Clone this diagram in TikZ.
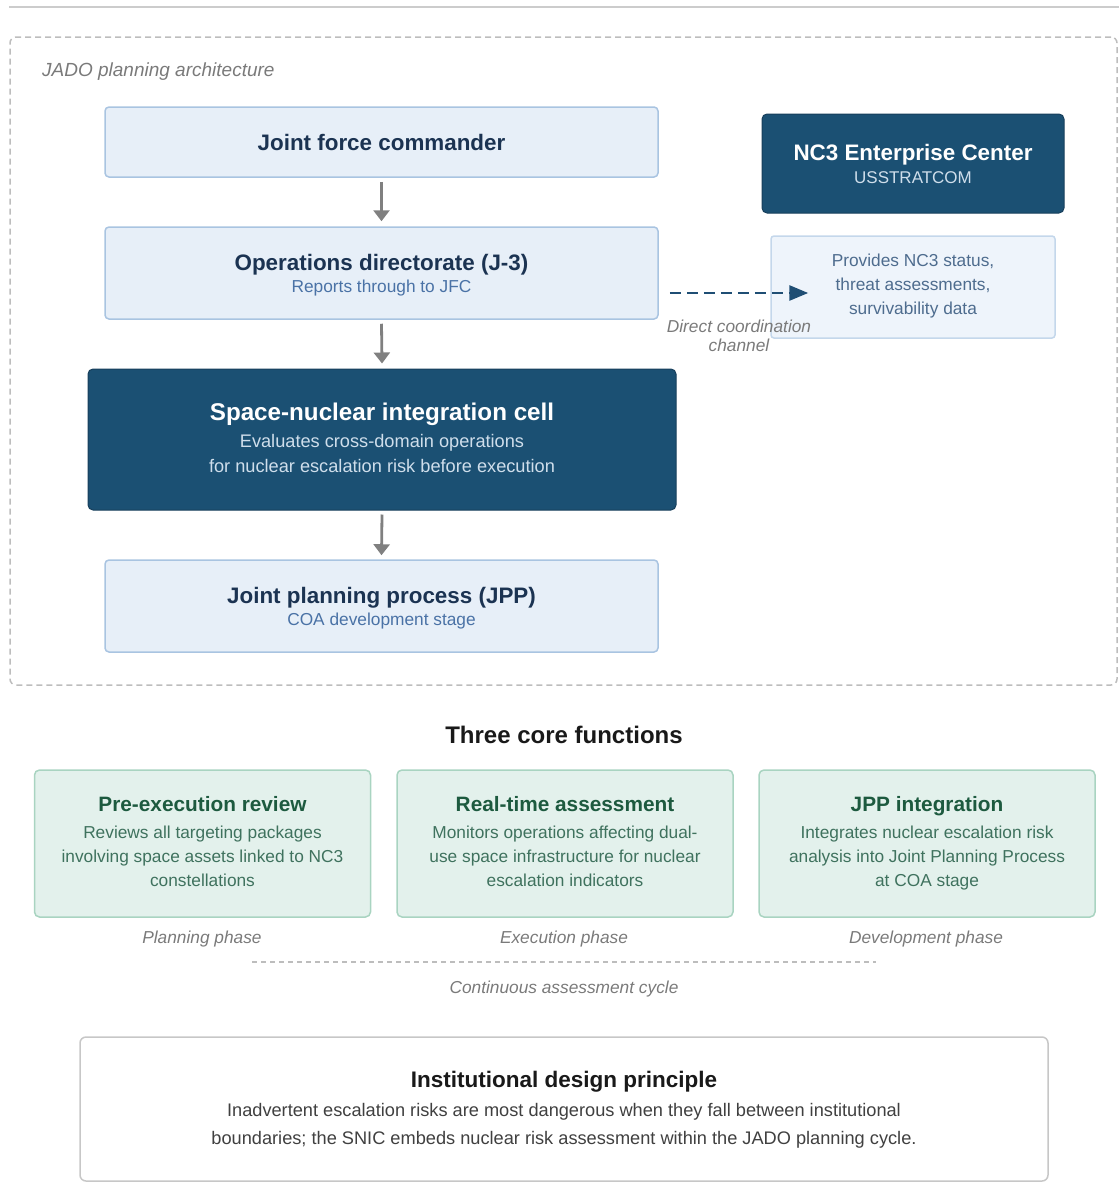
\documentclass[tikz,border=0pt]{standalone}
\usepackage{fontspec}
\setmainfont{Liberation Sans}
\usetikzlibrary{arrows.meta}
\definecolor{lbfill}{HTML}{E7EFF8}
\definecolor{lbdraw}{HTML}{A9C4E1}
\definecolor{pvfill}{HTML}{EEF4FB}
\definecolor{pvdraw}{HTML}{C4D7EB}
\definecolor{darkbox}{HTML}{1B5073}
\definecolor{darkline}{HTML}{173F5B}
\definecolor{navytxt}{HTML}{1B3352}
\definecolor{subtxt}{HTML}{4A72A6}
\definecolor{pvtxt}{HTML}{4E6C8E}
\definecolor{lightsub}{HTML}{CFDEEB}
\definecolor{grfill}{HTML}{E3F1EC}
\definecolor{grdraw}{HTML}{A9D4C1}
\definecolor{grtitle}{HTML}{1D5A3F}
\definecolor{grbody}{HTML}{3F725E}
\definecolor{graytxt}{HTML}{7A7A7A}
\definecolor{frame}{HTML}{BDBDBD}
\definecolor{arrgray}{HTML}{808080}
\definecolor{dasharr}{HTML}{1F4E74}
\begin{document}
\begin{tikzpicture}[x=1pt,y=-1pt,
  lbox/.style={draw=lbdraw,fill=lbfill,line width=1.5pt,rounded corners=4pt,inner sep=0pt},
  pvbox/.style={draw=pvdraw,fill=pvfill,line width=1.5pt,rounded corners=3pt,inner sep=0pt},
  dbox/.style={draw=darkline,fill=darkbox,line width=1pt,rounded corners=5pt,inner sep=0pt},
  gbox/.style={draw=grdraw,fill=grfill,line width=1.5pt,rounded corners=5pt,inner sep=0pt,minimum width=336pt,minimum height=147pt},
  txt/.style={anchor=base,inner sep=0pt},
  ttl/.style={txt,font=\fontsize{22.4}{26}\selectfont\bfseries,text=navytxt},
  sub/.style={txt,font=\fontsize{17.3}{22}\selectfont,text=subtxt},
  gttl/.style={txt,font=\fontsize{20.8}{24}\selectfont\bfseries,text=grtitle},
  gbody/.style={txt,font=\fontsize{17.3}{24}\selectfont,text=grbody},
  itl/.style={txt,font=\fontsize{17.3}{19}\selectfont\itshape,text=graytxt},
  flow/.style={draw=arrgray,line width=2.8pt,-{Triangle[length=11pt,width=16pt]}},
]
\useasboundingbox (0,0) rectangle (1119,1183);
% top rule
\draw[draw=black!20,line width=1.5pt] (9,7) -- (1119,7);
% dashed frame
\node[draw=frame,dashed,dash pattern=on 6pt off 4pt,line width=1.5pt,rounded corners=6pt,minimum width=1107pt,minimum height=648pt,inner sep=0pt] (frame) at (563.5,361) {};
\node[itl,anchor=base west,font=\fontsize{19}{21}\selectfont\itshape] (jadolbl) at (42,76.8) {JADO planning architecture};

% JFC
\node[lbox,minimum width=553pt,minimum height=70pt] (jfc) at (381.5,142) {};
\node[ttl] (jfct) at (381.5,150) {Joint force commander};
% Ops
\node[lbox,minimum width=553pt,minimum height=92pt] (ops) at (381.5,273) {};
\node[ttl] (opst) at (381.5,270) {Operations directorate (J-3)};
\node[sub] (opss) at (381.5,292) {Reports through to JFC};
% SNIC
\node[dbox,minimum width=588pt,minimum height=141pt] (snic) at (382,439.5) {};
\node[txt,font=\fontsize{24.2}{28}\selectfont\bfseries,text=white] (snict) at (382,420.7) {Space-nuclear integration cell};
\node[txt,font=\fontsize{18.2}{25}\selectfont,text=lightsub] (snics1) at (382,447.5) {Evaluates cross-domain operations};
\node[txt,font=\fontsize{18.2}{25}\selectfont,text=lightsub] (snics2) at (382,472.5) {for nuclear escalation risk before execution};
% JPP
\node[lbox,minimum width=553pt,minimum height=92pt] (jpp) at (381.5,606) {};
\node[ttl] (jppt) at (381.5,603) {Joint planning process (JPP)};
\node[sub] (jpps) at (381.5,625) {COA development stage};

% arrows
\draw[flow] (jfc.south) ++(0,4) -- ([yshift=5pt]ops.north);
\draw[flow] (ops.south) ++(0,4) -- ([yshift=5pt]snic.north);
\draw[flow] (snic.south) ++(0,4) -- ([yshift=4pt]jpp.north);

% NC3
\node[dbox,minimum width=302pt,minimum height=99pt] (nc3) at (913,163.5) {};
\node[txt,font=\fontsize{22.4}{26}\selectfont\bfseries,text=white] (nc3t) at (913,160) {NC3 Enterprise Center};
\node[txt,font=\fontsize{17}{20}\selectfont,text=lightsub] (nc3s) at (913,183) {USSTRATCOM};
\node[pvbox,minimum width=284pt,minimum height=102pt] (prov) at (913,287) {};
\node[txt,font=\fontsize{17.3}{20}\selectfont,text=pvtxt] (provt1) at (913,266) {Provides NC3 status,};
\node[txt,font=\fontsize{17.3}{20}\selectfont,text=pvtxt] (provt2) at (913,290) {threat assessments,};
\node[txt,font=\fontsize{17.3}{20}\selectfont,text=pvtxt] (provt3) at (913,314) {survivability data};

% dashed coordination arrow
\draw[draw=dasharr,line width=2.8pt,dash pattern=on 11pt off 6pt,-{Triangle[length=19pt,width=15pt]}] ([shift={(11,20)}]ops.east) -- ([shift={(38,6)}]prov.west);
\node[itl] (coordlbl1) at (739,332) {Direct coordination};
\node[itl] (coordlbl2) at (739,351) {channel};

% three core functions
\node[txt,font=\fontsize{24}{28}\selectfont\bfseries,text=black!90] (tcf) at (564,743.6) {Three core functions};

\node[gbox] (g1) at (202.5,843.5) {};
\node[gttl] (g1t) at (202.5,811.5) {Pre-execution review};
\node[gbody] (g1b1) at (202.5,838) {Reviews all targeting packages};
\node[gbody] (g1b2) at (202.5,862) {involving space assets linked to NC3};
\node[gbody] (g1b3) at (202.5,886) {constellations};
\node[itl] (g1p) at (202,943) {Planning phase};

\node[gbox] (g2) at (565,843.5) {};
\node[gttl] (g2t) at (565,811.5) {Real-time assessment};
\node[gbody] (g2b1) at (565,838) {Monitors operations affecting dual-};
\node[gbody] (g2b2) at (565,862) {use space infrastructure for nuclear};
\node[gbody] (g2b3) at (565,886) {escalation indicators};
\node[itl] (g2p) at (564,943) {Execution phase};

\node[gbox] (g3) at (927,843.5) {};
\node[gttl] (g3t) at (927,811.5) {JPP integration};
\node[gbody] (g3b1) at (927,838) {Integrates nuclear escalation risk};
\node[gbody] (g3b2) at (927,862) {analysis into Joint Planning Process};
\node[gbody] (g3b3) at (927,886) {at COA stage};
\node[itl] (g3p) at (926,943) {Development phase};

% continuous cycle
\coordinate (cycA) at (252,962);
\coordinate (cycB) at (876,962);
\draw[draw=frame,line width=1.2pt,dash pattern=on 5pt off 4pt] (cycA) -- (cycB);
\node[itl] (cyc) at (564,993) {Continuous assessment cycle};

% bottom principle box
\node[draw=black!22,line width=1.5pt,rounded corners=6pt,fill=white,minimum width=968pt,minimum height=144pt,inner sep=0pt] (idp) at (564,1109) {};
\node[txt,font=\fontsize{22.5}{26}\selectfont\bfseries,text=black!90] (idpt) at (564,1087) {Institutional design principle};
\node[txt,font=\fontsize{18.2}{22}\selectfont,text=black!75] (idpb1) at (564,1116.5) {Inadvertent escalation risks are most dangerous when they fall between institutional};
\node[txt,font=\fontsize{18.2}{22}\selectfont,text=black!75] (idpb2) at (564,1144.5) {boundaries; the SNIC embeds nuclear risk assessment within the JADO planning cycle.};
\end{tikzpicture}
\end{document}
